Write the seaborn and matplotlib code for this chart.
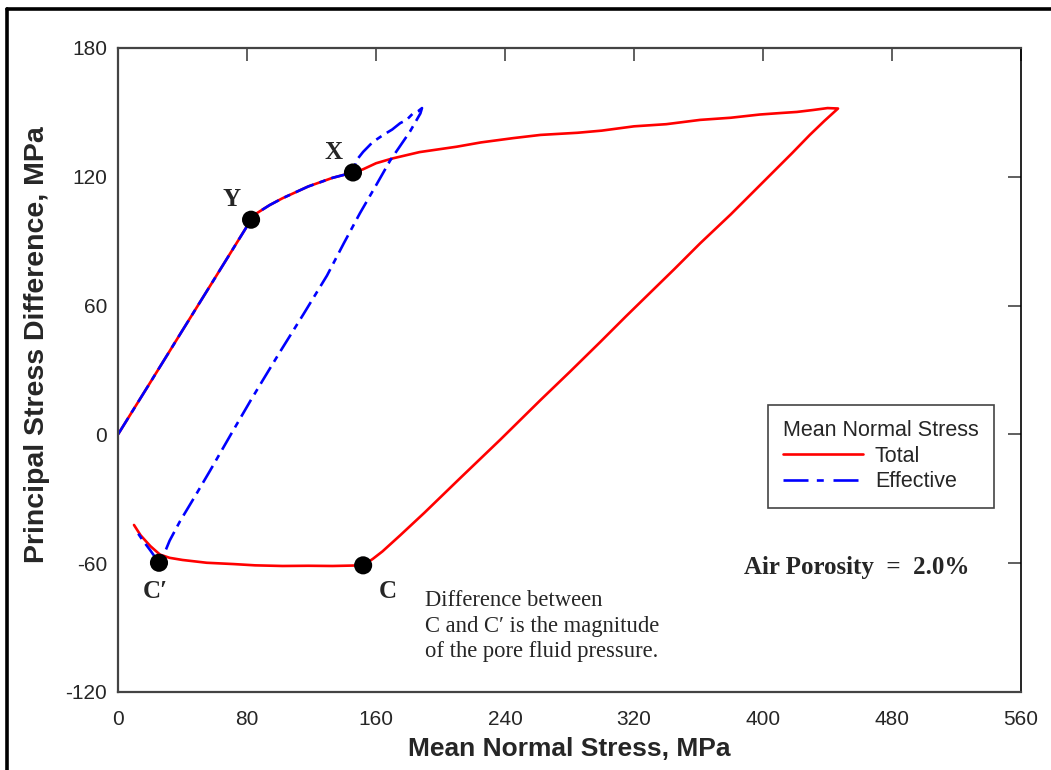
import matplotlib
matplotlib.use("Agg")
import matplotlib.pyplot as plt
from matplotlib.lines import Line2D
import pandas as pd
import seaborn as sns

# Stress path in total mean normal stress (MPa) vs principal stress difference (MPa)
total_p = [0, 20, 40, 60, 82.5, 86, 94, 102, 118, 133, 145.7, 152, 160, 170, 187, 210,
           225, 245, 262, 285, 300, 320, 340, 361, 380, 398, 411, 421, 431, 440, 446.5,
           438, 429, 418, 410, 398, 380, 361, 345, 330, 315, 299, 280, 262, 237, 212,
           190, 175, 164, 158, 152,
           133, 118, 102, 85, 71.5, 55, 40, 32, 26, 20, 14, 9.9]
total_q = [0, 24.2, 48.5, 72.7, 100, 103, 106.8, 110, 115.5, 119.5, 122, 123.5, 126.3,
           128.5, 131.5, 134, 136, 138, 139.5, 140.5, 141.5, 143.5, 144.5, 146.5, 147.5,
           149, 149.7, 150.2, 151.1, 152, 151.8,
           146, 139.5, 131, 125, 116, 102.5, 89, 77, 66, 55, 43, 29, 16, -2.5, -20.5,
           -36.5, -47, -54.5, -58, -61,
           -61.3, -61.2, -61.3, -61, -60.4, -59.8, -58.5, -57.5, -56, -52, -47, -42.2]

# Same path in effective mean normal stress
eff_p = [0, 20, 40, 60, 82.5, 86, 94, 102, 118, 133, 145.7, 148, 152, 158, 164.3, 170,
         175, 179, 183, 186, 188.5,
         187.5, 181, 168.7, 160, 150, 140, 129.6, 115, 100.5, 90, 82, 70, 57, 48, 38.4,
         32, 29.8, 25.4, 20, 15, 10.5]
eff_q = [0, 24.2, 48.5, 72.7, 100, 103, 106.8, 110, 115.5, 119.5, 122, 127.8, 131.6,
         136.2, 139.4, 142, 145, 146.5, 149.6, 150.5, 152,
         149.5, 141, 127.5, 116, 103, 89, 74, 56, 38.5, 25.5, 15.5, 0, -17, -28.5, -40.5,
         -49.5, -53.5, -59.8, -54, -49, -44]

# Marked states on the stress paths
point_names = ["Y", "X", "C", "C\u2032"]
point_p = [82.5, 145.7, 152.0, 25.4]
point_q = [100.0, 122.0, -61.0, -59.8]

series_names = ["Total", "Effective"]
x_ticks = [0, 80, 160, 240, 320, 400, 480, 560]
y_ticks = [-120, -60, 0, 60, 120, 180]

df = pd.concat([
    pd.DataFrame({"p": total_p, "q": total_q, "series": series_names[0]}),
    pd.DataFrame({"p": eff_p, "q": eff_q, "series": series_names[1]}),
], ignore_index=True)

sns.set_style("white")
plt.rcParams["font.family"] = ["Liberation Sans", "DejaVu Sans"]
plt.rcParams["lines.scale_dashes"] = False
plt.rcParams["axes.unicode_minus"] = False

fig = plt.figure(figsize=(10.51, 7.70), dpi=100)
ax = fig.add_axes([0.1123, 0.1013, 0.8592, 0.8364])

palette = {"Total": "#ff0000", "Effective": "#0000ff"}
dash_styles = {"Total": "", "Effective": (14, 4.5, 4.5, 4.5)}

sns.lineplot(data=df, x="p", y="q", hue="series", style="series",
             hue_order=series_names, style_order=series_names,
             palette=palette, dashes=dash_styles, sort=False, estimator=None,
             units="series", linewidth=1.9, ax=ax, legend=False)

sns.scatterplot(x=point_p, y=point_q, color="black", s=170, edgecolor="none",
                zorder=5, ax=ax, legend=False)

label_offsets = {"Y": (-12, 9.5), "X": (-12, 9.5), "C": (15.5, -12), "C\u2032": (-2.5, -13.5)}
for name, px, py in zip(point_names, point_p, point_q):
    dx, dy = label_offsets[name]
    ax.text(px + dx, py + dy, name, ha="center", va="center", fontsize=18,
            fontweight="bold", family="Liberation Serif", zorder=6)

ax.set_xlim(x_ticks[0], x_ticks[-1])
ax.set_ylim(y_ticks[0], y_ticks[-1])
ax.set_xticks(x_ticks)
ax.set_yticks(y_ticks)
ax.tick_params(axis="both", which="both", direction="in", length=9.5, width=1.2,
               color="#444444", top=True, right=True, labelsize=15)
ax.tick_params(axis="x", pad=13)
ax.tick_params(axis="y", pad=8)
for side in ["left", "bottom", "top"]:
    ax.spines[side].set_color("#444444")
    ax.spines[side].set_linewidth(1.6)
ax.spines["right"].set_color("black")
ax.spines["right"].set_linewidth(1.2)

ax.set_xlabel("Mean Normal Stress, MPa", fontsize=19, fontweight="bold", labelpad=6)
ax.set_ylabel("Principal Stress Difference, MPa", fontsize=20.5, fontweight="bold")
ax.yaxis.set_label_coords(-0.075, 0.54)

handles = [
    Line2D([], [], color=palette["Total"], linewidth=1.9),
    Line2D([], [], color=palette["Effective"], linewidth=1.9,
           dashes=(18, 6, 5, 7)),
]
leg = ax.legend(handles, series_names, title="Mean Normal Stress",
                loc="upper left", bbox_to_anchor=(0.72, 0.4457), borderaxespad=0,
                fontsize=15.5, title_fontsize=15.5, handlelength=3.7,
                handletextpad=0.55, labelspacing=0.22, borderpad=0.7,
                fancybox=False, framealpha=1, edgecolor="#444444")
leg.get_frame().set_linewidth(1.2)
leg._legend_box.align = "left"

ax.text(0.818, 0.194, "Air Porosity  =  2.0%", transform=ax.transAxes,
        ha="center", va="center", fontsize=18, fontweight="bold",
        family="Liberation Serif")
ax.text(0.340, 0.158,
        "Difference between\nC and C\u2032 is the magnitude\nof the pore fluid pressure.",
        transform=ax.transAxes, ha="left", va="top", fontsize=16.3,
        family="Liberation Serif", linespacing=1.28)

# Page frame along the top and left edges
fig.add_artist(Line2D([0.0066, 1.0], [0.9883, 0.9883], transform=fig.transFigure,
                      color="black", linewidth=2.6))
fig.add_artist(Line2D([0.0066, 0.0066], [0.0, 0.9883], transform=fig.transFigure,
                      color="black", linewidth=2.6))

fig.savefig("out.png", dpi=100)
